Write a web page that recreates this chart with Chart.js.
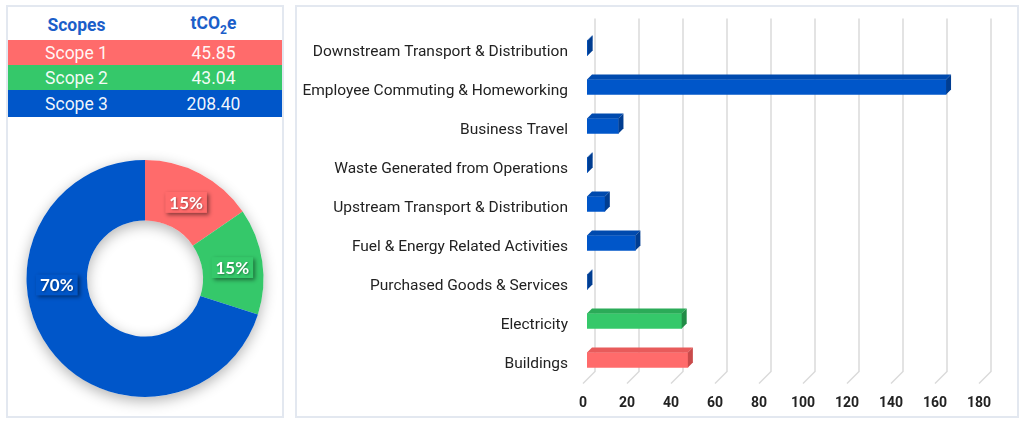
<!DOCTYPE html>
<html lang="en">
<head>
  <meta charset="UTF-8">
  <title>Emissions by Scope</title>
  <script src="https://cdn.jsdelivr.net/npm/chart.js"></script>
  <style>
    body {
      margin: 0;
      background: #fff;
      font-family: Roboto, Arial, sans-serif;
    }
    .panel {
      position: absolute;
      top: 5px;
      height: 413px;
      border: 2px solid #e3e8f0;
      box-sizing: border-box;
      background: #fff;
    }
    #left { left: 6px; width: 278px; }
    #right { left: 295px; width: 724px; }
    #scopeTable {
      position: absolute;
      left: 0;
      top: 0;
      width: 274px;
      border-collapse: collapse;
      table-layout: fixed;
      font-size: 17.5px;
    }
    #scopeTable col { width: 50%; }
    #scopeTable th {
      height: 33px;
      color: #1b5ec9;
      font-weight: 700;
      padding: 3px 0 0 0;
      box-sizing: border-box;
    }
    #scopeTable th sub { font-size: 12px; }
    #scopeTable td {
      height: 25px;
      padding: 0;
      text-align: center;
      color: rgba(255, 255, 255, 0.95);
    }
    #donut { position: absolute; left: 0; top: 108px; }
    #bars { position: absolute; left: 0; top: 0; }
  </style>
</head>
<body>
  <div class="panel" id="left">
    <table id="scopeTable">
      <colgroup><col><col></colgroup>
      <thead><tr><th>Scopes</th><th>tCO<sub>2</sub>e</th></tr></thead>
      <tbody></tbody>
    </table>
    <canvas id="donut" width="274" height="301"></canvas>
  </div>
  <div class="panel" id="right">
    <canvas id="bars" width="720" height="409"></canvas>
  </div>

  <script>
    // scope totals (tCO2e)
    const scopeNames = ['Scope 1', 'Scope 2', 'Scope 3'];
    const scopeValues = [45.85, 43.04, 208.40];

    // emission sources, top to bottom, and the scope each belongs to
    const sources = [
      'Downstream Transport & Distribution',
      'Employee Commuting & Homeworking',
      'Business Travel',
      'Waste Generated from Operations',
      'Upstream Transport & Distribution',
      'Fuel & Energy Related Activities',
      'Purchased Goods & Services',
      'Electricity',
      'Buildings'
    ];
    const sourceValues = [0.3, 163.2, 14.3, 0.3, 8.1, 22.0, 0.2, 43.04, 45.85];
    const sourceScope = [3, 3, 3, 3, 3, 3, 3, 2, 1];
    const xTicks = [0, 20, 40, 60, 80, 100, 120, 140, 160, 180];

    // colours: front, top face, side face
    const scopeColors = {
      1: ['#ff6b6b', '#e85b5b', '#c94a4a'],
      2: ['#35c86a', '#2bab58', '#228c47'],
      3: ['#0056c9', '#004aae', '#003d91']
    };

    Chart.defaults.font.family = 'Roboto, Arial, sans-serif';

    // table
    const tbody = document.querySelector('#scopeTable tbody');
    scopeNames.forEach((name, i) => {
      const tr = document.createElement('tr');
      tr.style.background = scopeColors[i + 1][0];
      tr.innerHTML = `<td>${name}</td><td>${scopeValues[i].toFixed(2)}</td>`;
      if (i === 2) tr.style.height = '27px';
      tbody.appendChild(tr);
    });

    // whole percentages that add up to 100 (largest remainder)
    function roundedShares(values) {
      const total = values.reduce((a, b) => a + b, 0);
      const raw = values.map(v => v / total * 100);
      const out = raw.map(Math.floor);
      let left = 100 - out.reduce((a, b) => a + b, 0);
      raw.map((r, i) => [r - Math.floor(r), i])
        .sort((a, b) => b[0] - a[0])
        .forEach(([, i]) => { if (left > 0) { out[i]++; left--; } });
      return out;
    }
    const shares = roundedShares(scopeValues);

    const ringShadow = {
      id: 'ringShadow',
      beforeDatasetsDraw(chart) {
        const arc = chart.getDatasetMeta(0).data[0];
        if (!arc) return;
        const { x, y, innerRadius, outerRadius } = arc.getProps(['x', 'y', 'innerRadius', 'outerRadius']);
        const ctx = chart.ctx;
        ctx.save();
        ctx.shadowColor = 'rgba(0, 0, 0, 0.3)';
        ctx.shadowBlur = 14;
        ctx.shadowOffsetY = 4;
        ctx.fillStyle = '#fff';
        ctx.beginPath();
        ctx.arc(x, y, outerRadius, 0, Math.PI * 2);
        ctx.moveTo(x + innerRadius, y);
        ctx.arc(x, y, innerRadius, 0, Math.PI * 2, true);
        ctx.fill();
        ctx.restore();
      }
    };

    const arcLabels = {
      id: 'arcLabels',
      afterDatasetsDraw(chart) {
        const ctx = chart.ctx;
        const ds = chart.data.datasets[0];
        chart.getDatasetMeta(0).data.forEach((arc, i) => {
          const p = arc.getProps(['x', 'y', 'startAngle', 'endAngle', 'innerRadius', 'outerRadius']);
          let a = (p.startAngle + p.endAngle) / 2;
          // big slice: put the label on its left side
          if (p.endAngle - p.startAngle > Math.PI && p.startAngle < Math.PI && p.endAngle > Math.PI) a = Math.PI - 0.05;
          const r = (p.innerRadius + p.outerRadius) / 2;
          const lx = p.x + Math.cos(a) * r;
          const ly = p.y + Math.sin(a) * r + 2;
          const text = shares[i] + '%';
          ctx.save();
          ctx.font = 'bold 17px Lato, sans-serif';
          const w = ctx.measureText(text).width + 8;
          const h = 21;
          ctx.shadowColor = 'rgba(0, 0, 0, 0.45)';
          ctx.shadowBlur = 4;
          ctx.shadowOffsetX = 2;
          ctx.shadowOffsetY = 2;
          ctx.fillStyle = ds.backgroundColor[i];
          ctx.fillRect(lx - w / 2, ly - h / 2, w, h);
          ctx.shadowColor = 'rgba(0, 0, 0, 0.35)';
          ctx.shadowBlur = 2;
          ctx.shadowOffsetX = 1;
          ctx.shadowOffsetY = 1;
          ctx.fillStyle = '#fff';
          ctx.textAlign = 'center';
          ctx.textBaseline = 'middle';
          ctx.fillText(text, lx, ly + 1);
          ctx.restore();
        });
      }
    };

    new Chart(document.getElementById('donut'), {
      type: 'doughnut',
      data: {
        labels: scopeNames,
        datasets: [{
          data: scopeValues,
          backgroundColor: scopeNames.map((n, i) => scopeColors[i + 1][0]),
          borderWidth: 0
        }]
      },
      options: {
        responsive: false,
        animation: false,
        cutout: '49%',
        layout: { padding: { top: 26, left: 18.5, right: 18.5, bottom: 0 } },
        plugins: { legend: { display: false }, tooltip: { enabled: false } }
      },
      plugins: [ringShadow, arcLabels]
    });

    // 3D look for the bar chart
    const DEPTH = 5;
    const BACK = { dx: 8, dy: -8 };
    const FRONT = { dx: -4, dy: 4 };

    const wallGrid = {
      id: 'wallGrid',
      beforeDatasetsDraw(chart) {
        const { ctx, chartArea } = chart;
        const xs = chart.scales.x;
        ctx.save();
        ctx.strokeStyle = '#dadada';
        ctx.lineWidth = 1.5;
        xTicks.forEach(v => {
          const px = xs.getPixelForValue(v);
          ctx.beginPath();
          ctx.moveTo(px + BACK.dx, chartArea.top + BACK.dy - 2);
          ctx.lineTo(px + BACK.dx, chartArea.bottom + BACK.dy);
          ctx.lineTo(px + FRONT.dx, chartArea.bottom + FRONT.dy);
          ctx.stroke();
        });
        ctx.restore();
      }
    };

    const barFaces = {
      id: 'barFaces',
      afterDatasetsDraw(chart) {
        const ctx = chart.ctx;
        chart.getDatasetMeta(0).data.forEach((bar, i) => {
          const { x, y, base, height } = bar.getProps(['x', 'y', 'base', 'height']);
          const l = Math.min(x, base), r = Math.max(x, base);
          const t = y - height / 2, b = y + height / 2;
          const c = scopeColors[sourceScope[i]];
          ctx.save();
          ctx.fillStyle = c[1];
          ctx.beginPath();
          ctx.moveTo(l, t);
          ctx.lineTo(l + DEPTH, t - DEPTH);
          ctx.lineTo(r + DEPTH, t - DEPTH);
          ctx.lineTo(r, t);
          ctx.closePath();
          ctx.fill();
          ctx.fillStyle = c[2];
          ctx.beginPath();
          ctx.moveTo(r, t);
          ctx.lineTo(r + DEPTH, t - DEPTH);
          ctx.lineTo(r + DEPTH, b - DEPTH);
          ctx.lineTo(r, b);
          ctx.closePath();
          ctx.fill();
          ctx.restore();
        });
      }
    };

    new Chart(document.getElementById('bars'), {
      type: 'bar',
      data: {
        labels: sources,
        datasets: [{
          data: sourceValues,
          backgroundColor: sourceScope.map(s => scopeColors[s][0]),
          borderWidth: 0,
          barThickness: 15
        }]
      },
      options: {
        indexAxis: 'y',
        responsive: false,
        animation: false,
        layout: { padding: { top: 21.5, right: 34, left: 0, bottom: 0 } },
        plugins: { legend: { display: false }, tooltip: { enabled: false } },
        scales: {
          x: {
            min: 0,
            max: 180,
            afterBuildTicks: s => { s.ticks = xTicks.map(v => ({ value: v })); },
            afterFit: s => { s.height = 36.5; s.paddingLeft = 0; s.paddingRight = 0; },
            grid: { display: false, drawTicks: false },
            border: { display: false },
            ticks: {
              padding: 16,
              labelOffset: -4,
              color: '#222',
              font: { size: 14, weight: 'bold' }
            }
          },
          y: {
            afterFit: s => { s.width = 290; s.paddingTop = 0; s.paddingBottom = 0; },
            grid: { display: false, drawTicks: false },
            border: { display: false },
            ticks: {
              padding: 19,
              labelOffset: 4,
              color: '#222',
              font: { size: 15.5 }
            }
          }
        }
      },
      plugins: [wallGrid, barFaces]
    });
  </script>
</body>
</html>
